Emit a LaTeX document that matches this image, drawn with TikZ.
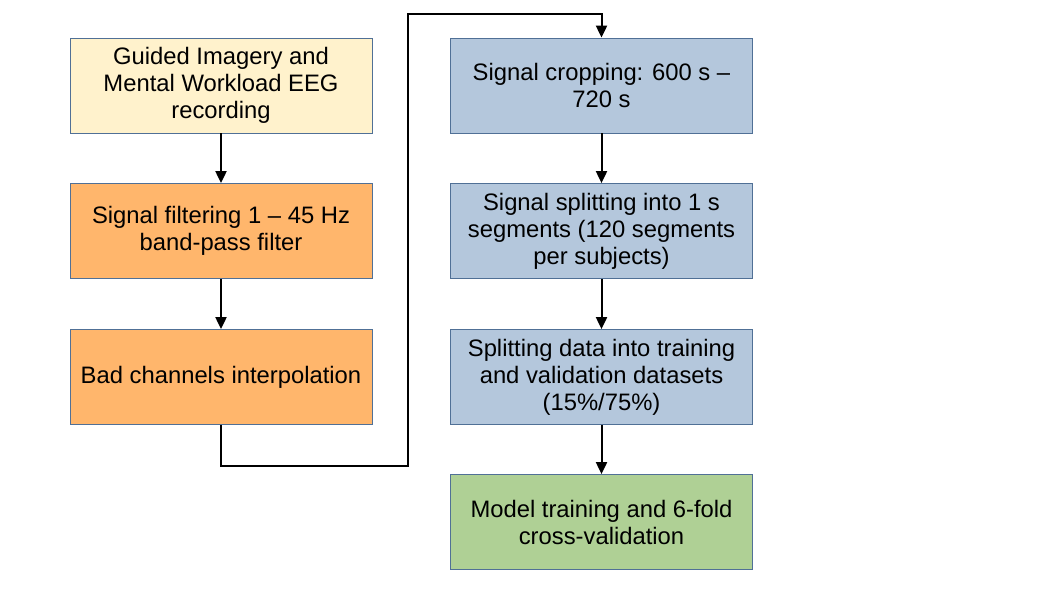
\documentclass[tikz,border=0pt]{standalone}
\usepackage{fontspec}
\setmainfont{Liberation Sans}
\usepackage{tikz}
\usetikzlibrary{arrows.meta}

\definecolor{boxline}{RGB}{80,112,150}
\definecolor{recyellow}{HTML}{FFF2CC}
\definecolor{preorange}{HTML}{FFB66C}
\definecolor{stepblue}{HTML}{B4C7DC}
\definecolor{modgreen}{HTML}{AFD095}

\tikzset{
  stage/.style={draw=boxline, line width=0.4pt, minimum width=151pt, minimum height=47.5pt,
    align=center, inner sep=2pt, font=\fontsize{11.9}{13.5}\selectfont},
  link/.style={line width=1pt, -{Triangle[length=6pt,width=5.5pt]}}
}

\begin{document}
\begin{tikzpicture}[x=0.5pt,y=-0.5pt]
\useasboundingbox (0,0) rectangle (1058,595);

% Left column
\node[stage, fill=recyellow] (rec) at (221,85.5) {Guided Imagery and\\Mental Workload EEG\\recording};
\node[stage, fill=preorange] (filt) at (221,231) {Signal filtering 1 -- 45 Hz\\band-pass filter};
\node[stage, fill=preorange] (bad) at (221,377) {Bad channels interpolation};

% Right column
\node[stage, fill=stepblue] (crop) at (601.5,85.5) {Signal cropping: 600 s --\\720 s};
\node[stage, fill=stepblue] (split) at (601.5,231) {Signal splitting into 1 s\\segments (120 segments\\per subjects)};
\node[stage, fill=stepblue] (data) at (601.5,377) {Splitting data into training\\and validation datasets\\(15\%/75\%)};
\node[stage, fill=modgreen] (model) at (601.5,522) {Model training and 6-fold\\cross-validation};

% Arrows
\draw[link] (rec) -- (filt);
\draw[link] (filt) -- (bad);
\coordinate (low) at (408,466);
\coordinate (high) at (408,14);
\draw[link] (bad.south) |- (low) -- (high) -| (crop.north);
\draw[link] (crop) -- (split);
\draw[link] (split) -- (data);
\draw[link] (data) -- (model);
\end{tikzpicture}
\end{document}
